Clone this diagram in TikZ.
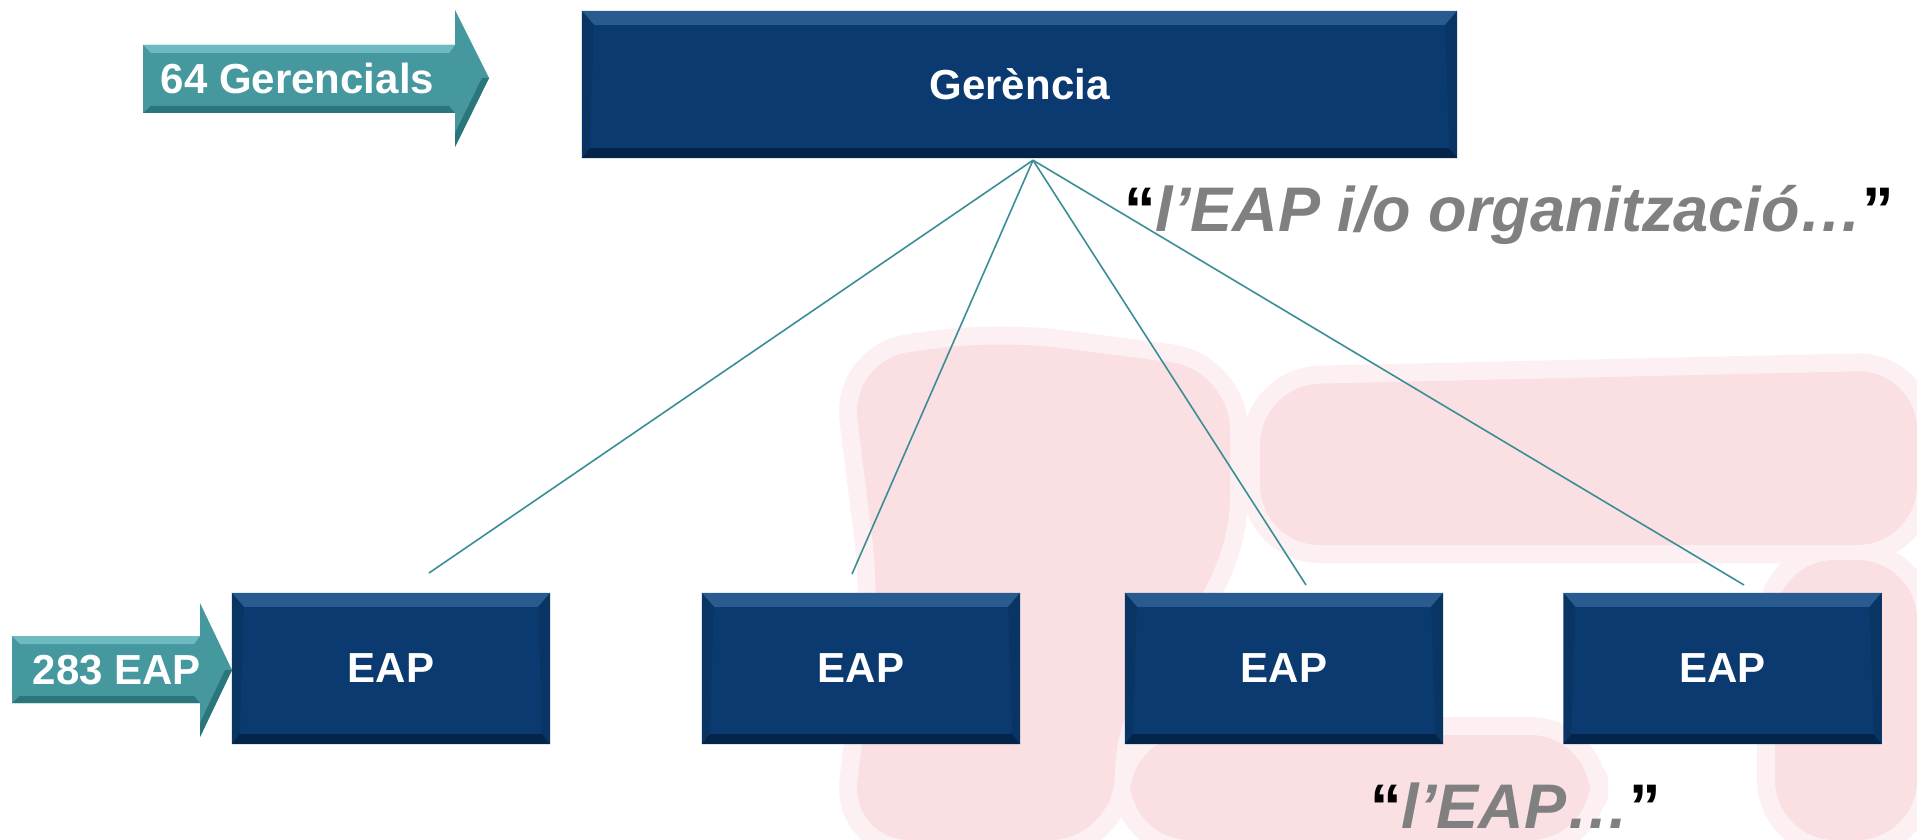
\documentclass[tikz,border=0pt]{standalone}
\usepackage{fontspec}
\setmainfont{Liberation Sans}
\usetikzlibrary{calc}
\definecolor{boxblue}{HTML}{0B3A70}
\definecolor{boxtop}{HTML}{2A5B90}
\definecolor{boxside}{HTML}{093564}
\definecolor{boxbot}{HTML}{052449}
\definecolor{arrteal}{HTML}{45989E}
\definecolor{arrlight}{HTML}{6DBBC0}
\definecolor{arrdark}{HTML}{2A767C}
\definecolor{linecol}{HTML}{3A8E96}
\definecolor{quotegray}{HTML}{808080}
\definecolor{wmouter}{HTML}{FDF0F2}
\definecolor{wminner}{HTML}{FADFE3}
\newcommand\boxbevel[1]{%
  \fill[boxtop] (#1.north west) -- (#1.north east) -- ($(#1.north east)+(-12,14)$) -- ($(#1.north west)+(12,14)$) -- cycle;
  \fill[boxside] (#1.north west) -- ($(#1.north west)+(12,14)$) -- ($(#1.south west)+(8,-10)$) -- (#1.south west) -- cycle;
  \fill[boxside] (#1.north east) -- ($(#1.north east)+(-12,14)$) -- ($(#1.south east)+(-8,-10)$) -- (#1.south east) -- cycle;
  \fill[boxbot] (#1.south west) -- (#1.south east) -- ($(#1.south east)+(-8,-10)$) -- ($(#1.south west)+(8,-10)$) -- cycle;
}
\tikzset{
  x=1pt, y=-1pt,
  bluebox/.style={fill=boxblue, inner sep=0pt, text=white,
    font=\bfseries\fontsize{42}{48}\selectfont},
  eapbox/.style={bluebox, minimum width=318pt, minimum height=151pt},
  arrtext/.style={text=white, inner sep=0pt, anchor=base,
    font=\bfseries\fontsize{42}{48}\selectfont},
  arrshape/.style={fill=arrteal},
  conn/.style={draw=linecol, line width=1.6pt},
  quotetext/.style={inner sep=0pt, anchor=base west, text=quotegray,
    font=\bfseries\itshape\fontsize{63}{70}\selectfont},
  wmo/.style={fill=wmouter, draw=wmouter, line width=36pt, line join=round, rounded corners=60pt},
  wmi/.style={fill=wminner, rounded corners=60pt},
}
\begin{document}
\begin{tikzpicture}
\useasboundingbox (0,0) rectangle (1917,840);
\fill[white] (0,0) rectangle (1917,840);
% faint watermark
\foreach \s in {wmo, wmi}{
  \path[\s] (850,360) -- (1000,340) -- (1230,370) -- (1230,560) -- (1120,700) -- (1110,840) -- (850,840) -- (880,600) -- cycle;
  \path[\s] (1260,385) -- (1917,370) -- (1917,545) -- (1260,545) -- cycle;
  \path[\s] (1775,560) -- (1917,560) -- (1917,840) -- (1775,840) -- cycle;
  \path[\s] (1130,735) -- (1590,735) -- (1590,840) -- (1130,840) -- cycle;
}

% top arrow
\fill[arrshape] (143,45) -- (455,45) -- (455,10) -- (489,78) -- (455,147) -- (455,113) -- (143,113) -- cycle;
\fill[arrlight] (143,45) -- (455,45) -- (449,53) -- (151,53) -- cycle;
\fill[arrdark] (143,113) -- (455,113) -- (449,106) -- (151,106) -- cycle;
\fill[arrdark] (455,147) -- (489,78) -- (482,78) -- (455,133) -- cycle;
\node[arrtext] (g64) at (297.5,94) {64 Gerencials};

% bottom arrow
\fill[arrshape] (12,636) -- (200,636) -- (200,603) -- (232,670) -- (200,737) -- (200,703) -- (12,703) -- cycle;
\fill[arrlight] (12,636) -- (200,636) -- (194,644) -- (20,644) -- cycle;
\fill[arrdark] (12,703) -- (200,703) -- (194,696) -- (20,696) -- cycle;
\fill[arrdark] (200,737) -- (232,670) -- (225,670) -- (200,723) -- cycle;
\node[arrtext] (e283) at (117,684) {283 EAP};

% Gerencia box
\node[bluebox, minimum width=875pt, minimum height=147pt] (ger) at (1019.5,84.5) {Gerència};
\boxbevel{ger}
\node[bluebox] at (ger.center) {Gerència};

% EAP boxes
\node[eapbox] (e1) at (391,668.5) {};
\node[eapbox] (e2) at (861,668.5) {};
\node[eapbox] (e3) at (1284,668.5) {};
\node[eapbox] (e4) at (1722.5,668.5) {};
\foreach \b in {e1,e2,e3,e4}{
  \boxbevel{\b}
  \node[bluebox] at (\b.center) {EAP};
}

% connectors
\coordinate (hub) at ($(ger.south)+(13.5,2)$);
\coordinate (t1) at (429,573);
\coordinate (t2) at (852,574);
\coordinate (t3) at (1306,585);
\coordinate (t4) at (1744,585);
\draw[conn] (hub) -- (t1);
\draw[conn] (hub) -- (t2);
\draw[conn] (hub) -- (t3);
\draw[conn] (hub) -- (t4);

% quotes
\node[quotetext] (q1) at (1124,231) {{\color{black}\upshape “}l’EAP i/o organització…{\color{black}\upshape ”}};
\node[quotetext, font=\bfseries\itshape\fontsize{63}{70}\selectfont] (q2) at (1370,828) {{\color{black}\upshape “}l’EAP…{\color{black}\upshape ”}};
\end{tikzpicture}
\end{document}
